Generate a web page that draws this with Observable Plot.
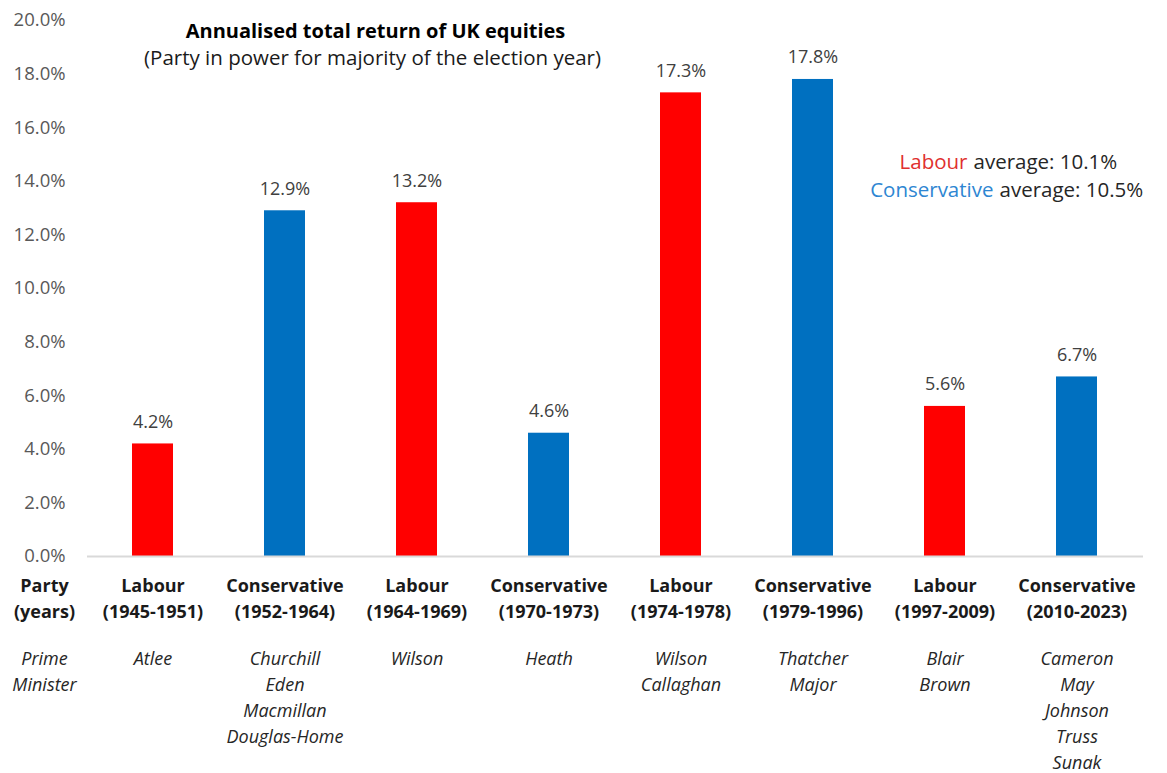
<!DOCTYPE html>
<html>
<head>
<meta charset="utf-8">
<script src="https://cdn.jsdelivr.net/npm/d3@7"></script>
<script src="https://cdn.jsdelivr.net/npm/@observablehq/plot@0.6"></script>
<style>
  html, body { margin: 0; padding: 0; background: #fff; }
  #chart svg { display: block; }
</style>
</head>
<body>
<div id="chart"></div>
<script>
// ---- Data ----
const parties = ["Labour", "Conservative", "Labour", "Conservative", "Labour", "Conservative", "Labour", "Conservative"];
const years = ["(1945-1951)", "(1952-1964)", "(1964-1969)", "(1970-1973)", "(1974-1978)", "(1979-1996)", "(1997-2009)", "(2010-2023)"];
const returnsPct = [4.2, 12.9, 13.2, 4.6, 17.3, 17.8, 5.6, 6.7];
const primeMinisters = [
  ["Atlee"],
  ["Churchill", "Eden", "Macmillan", "Douglas-Home"],
  ["Wilson"],
  ["Heath"],
  ["Wilson", "Callaghan"],
  ["Thatcher", "Major"],
  ["Blair", "Brown"],
  ["Cameron", "May", "Johnson", "Truss", "Sunak"]
];
const yTicks = [0, 0.02, 0.04, 0.06, 0.08, 0.10, 0.12, 0.14, 0.16, 0.18, 0.20];
const titleText = "Annualised total return of UK equities";
const subtitleText = "(Party in power for majority of the election year)";
const rowLabels = ["Party\n(years)"];
const pmRowLabel = ["Prime\nMinister"];
const averageParties = ["Labour", "Conservative"];
const averageValues = ["average: 10.1%", "average: 10.5%"];

const partyColors = {Labour: "#ff0000", Conservative: "#0070c0"};
const textColors = {Labour: "#e0302e", Conservative: "#2e86d2"};

const data = parties.map((p, i) => ({
  key: i,
  party: p,
  label: p + "\n" + years[i],
  value: returnsPct[i] / 100,
  valueLabel: returnsPct[i].toFixed(1) + "%",
  pms: primeMinisters[i].join("\n")
}));

const FONT = "'Open Sans', Lato, sans-serif";

const chart = Plot.plot({
  width: 1167,
  height: 773,
  marginLeft: 87,
  marginRight: 24,
  marginTop: 20,
  marginBottom: 217,
  style: {fontFamily: FONT, fontSize: "18px", background: "#fff"},
  x: {domain: d3.range(parties.length), paddingInner: 0.686, paddingOuter: 0.343, axis: null},
  y: {domain: [0, 0.20], axis: null},
  color: {domain: ["Labour", "Conservative"], range: [partyColors.Labour, partyColors.Conservative]},
  marks: [
    Plot.axisY({ticks: yTicks, tickFormat: d3.format(".1%"), tickSize: 0, tickPadding: 22, label: null, fill: "#595959", fontSize: 18.5}),
    Plot.barY(data, {x: "key", y: "value", fill: "party"}),
    Plot.ruleY([0], {stroke: "#d9d9d9", strokeWidth: 2}),
    Plot.text(data, {x: "key", y: "value", text: "valueLabel", lineAnchor: "bottom", dy: -16, fill: "#404040", fontSize: 18}),
    // category labels
    Plot.text(data, {x: "key", text: "label", frameAnchor: "bottom", lineAnchor: "top", dy: 17.5, lineHeight: 26 / 18, fontWeight: "bold", fill: "#1a1a1a", fontSize: 18}),
    Plot.text(data, {x: "key", text: "pms", frameAnchor: "bottom", lineAnchor: "top", dy: 89.6, lineHeight: 26 / 18, fontStyle: "italic", fill: "#262626", fontSize: 18}),
    // row labels at left
    Plot.text(rowLabels, {text: d => d, frameAnchor: "bottom-left", lineAnchor: "top", dx: -43, dy: 17.5, lineHeight: 26 / 18, textAnchor: "middle", fontWeight: "bold", fill: "#1a1a1a", fontSize: 18}),
    Plot.text(pmRowLabel, {text: d => d, frameAnchor: "bottom-left", lineAnchor: "top", dx: -43, dy: 89.6, lineHeight: 26 / 18, textAnchor: "middle", fontStyle: "italic", fill: "#262626", fontSize: 18}),
    // title & subtitle
    Plot.text([titleText], {text: d => d, frameAnchor: "top-left", lineAnchor: "middle", dx: 288, dy: 11, textAnchor: "middle", fontWeight: "bold", fill: "#000", fontSize: 20}),
    Plot.text([subtitleText], {text: d => d, frameAnchor: "top-left", lineAnchor: "middle", dx: 285, dy: 38, textAnchor: "middle", fill: "#1a1a1a", fontSize: 20.5}),
    // averages annotation
    Plot.text([averageParties[0]], {text: d => d, frameAnchor: "top-left", lineAnchor: "middle", dx: 880, dy: 141.7, textAnchor: "end", fill: textColors.Labour, fontSize: 20.5}),
    Plot.text([averageValues[0]], {text: d => d, frameAnchor: "top-left", lineAnchor: "middle", dx: 886, dy: 141.7, textAnchor: "start", fill: "#262626", fontSize: 20.5}),
    Plot.text([averageParties[1]], {text: d => d, frameAnchor: "top-left", lineAnchor: "middle", dx: 906, dy: 170, textAnchor: "end", fill: textColors.Conservative, fontSize: 20.5}),
    Plot.text([averageValues[1]], {text: d => d, frameAnchor: "top-left", lineAnchor: "middle", dx: 912, dy: 170, textAnchor: "start", fill: "#262626", fontSize: 20.5})
  ]
});
document.getElementById("chart").appendChild(chart);
</script>
</body>
</html>
